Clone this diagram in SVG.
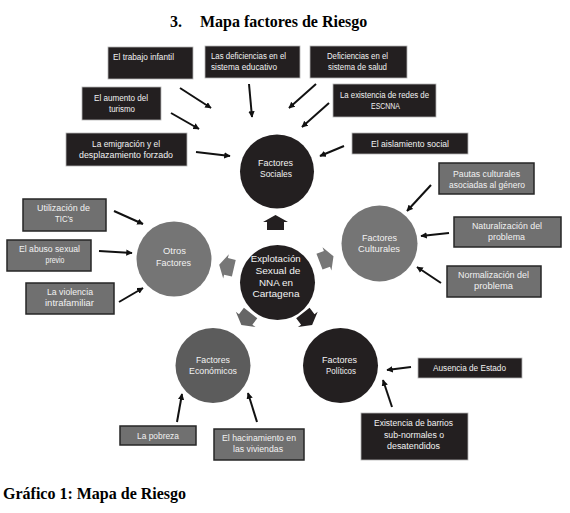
<svg xmlns="http://www.w3.org/2000/svg" xmlns:xlink="http://www.w3.org/1999/xlink" width="570" height="513" viewBox="0 0 570 513">
<defs>
<style>
.title{font-family:"Liberation Serif","Times New Roman",serif;font-weight:bold;font-size:16px;fill:#000}
.t{font-family:"Liberation Sans",Arial,sans-serif;font-size:8.5px;fill:#f2f2f2;text-anchor:middle}
.c{font-family:"Liberation Sans",Arial,sans-serif;font-size:9.5px;fill:#f2f2f2;text-anchor:middle}
.bk{fill:#231f20;stroke:#b5b5b5;stroke-width:0.8}
.gy{fill:#707070;stroke:#262626;stroke-width:1.5}
.cb{fill:#231f20}
.cg{fill:#757575}
.ce{fill:#5c5c5c}
.ln{stroke:#111;stroke-width:2;fill:none;marker-end:url(#ah)}
</style>
<marker id="ah" viewBox="0 0 10 10" refX="9" refY="5" markerWidth="3.2" markerHeight="3.2" orient="auto" markerUnits="strokeWidth">
<path d="M0,0 L10,5 L0,10 Z" fill="#111"/>
</marker>
<path id="blk" d="M0,-7.5 L12.5,-0.5 L8.5,-0.5 L8.5,7.5 L-8.5,7.5 L-8.5,-0.5 L-12.5,-0.5 Z"/>
</defs>
<rect width="570" height="513" fill="#fff"/>
<text class="title" x="170" y="27">3.</text>
<text class="title" x="200" y="27">Mapa factores de Riesgo</text>
<text class="title" x="3" y="499">Gráfico 1: Mapa de Riesgo</text>

<g id="connectors">
<line class="ln" x1="180" y1="88" x2="211" y2="108"/>
<line class="ln" x1="249" y1="84" x2="252" y2="117"/>
<line class="ln" x1="316" y1="84" x2="289" y2="108"/>
<line class="ln" x1="171" y1="113" x2="199" y2="129"/>
<line class="ln" x1="329" y1="103" x2="302" y2="127"/>
<line class="ln" x1="196" y1="152" x2="230" y2="156"/>
<line class="ln" x1="344" y1="146" x2="320" y2="156"/>
<line class="ln" x1="431" y1="185" x2="407" y2="211"/>
<line class="ln" x1="449" y1="233" x2="421" y2="236"/>
<line class="ln" x1="441" y1="283" x2="417" y2="267"/>
<line class="ln" x1="114" y1="211" x2="143" y2="224"/>
<line class="ln" x1="99" y1="251" x2="132" y2="253"/>
<line class="ln" x1="119" y1="302" x2="143" y2="288"/>
<line class="ln" x1="177" y1="422" x2="182" y2="394"/>
<line class="ln" x1="257" y1="422" x2="248" y2="393"/>
<line class="ln" x1="411" y1="367" x2="387" y2="370"/>
<line class="ln" x1="392" y1="407" x2="383" y2="380"/>
<use xlink:href="#blk" fill="#231f20" transform="translate(275.5,222.5)"/>
<use xlink:href="#blk" fill="#777" transform="translate(326.5,259) rotate(69)"/>
<use xlink:href="#blk" fill="#777" transform="translate(226.5,266.5) rotate(-77)"/>
<use xlink:href="#blk" fill="#666" transform="translate(246,319) rotate(-142)"/>
<use xlink:href="#blk" fill="#231f20" transform="translate(307.5,319) rotate(142)"/>
</g>

<g id="n-trabajo"><rect class="bk" x="108" y="47" width="85" height="32"/><text class="t" x="143.5" y="60" textLength="61" lengthAdjust="spacingAndGlyphs">El trabajo infantil</text></g>
<g id="n-educativo"><rect class="bk" x="205" y="46" width="95" height="32"/><text class="t" x="248.5" y="59" textLength="75" lengthAdjust="spacingAndGlyphs">Las deficiencias en el</text><text class="t" x="244" y="70" textLength="66" lengthAdjust="spacingAndGlyphs">sistema educativo</text></g>
<g id="n-salud"><rect class="bk" x="310" y="46" width="97" height="32"/><text class="t" x="357.5" y="59" textLength="61" lengthAdjust="spacingAndGlyphs">Deficiencias en el</text><text class="t" x="357.5" y="70" textLength="59" lengthAdjust="spacingAndGlyphs">sistema de salud</text></g>
<g id="n-turismo"><rect class="bk" x="82" y="87" width="79" height="33"/><text class="t" x="121" y="101" textLength="54" lengthAdjust="spacingAndGlyphs">El aumento del</text><text class="t" x="122" y="112" textLength="26" lengthAdjust="spacingAndGlyphs">turismo</text></g>
<g id="n-redes"><rect class="bk" x="333" y="84" width="103" height="33"/><text class="t" x="384.5" y="98" textLength="89" lengthAdjust="spacingAndGlyphs">La existencia de redes de</text><text class="t" x="385.5" y="109" textLength="29" lengthAdjust="spacingAndGlyphs">ESCNNA</text></g>
<g id="n-emigracion"><rect class="bk" x="66" y="133" width="121" height="33"/><text class="t" x="126" y="147" textLength="68" lengthAdjust="spacingAndGlyphs">La emigración y el</text><text class="t" x="126" y="158" textLength="94" lengthAdjust="spacingAndGlyphs">desplazamiento forzado</text></g>
<g id="n-aislamiento"><rect class="bk" x="352" y="133" width="116" height="21"/><text class="t" x="410" y="147" textLength="78" lengthAdjust="spacingAndGlyphs">El aislamiento social</text></g>
<g id="n-sociales"><circle class="cb" cx="277" cy="171.5" r="37"/><text class="c" x="275.5" y="166" textLength="35" lengthAdjust="spacingAndGlyphs">Factores</text><text class="c" x="276" y="177" textLength="32" lengthAdjust="spacingAndGlyphs">Sociales</text></g>

<g id="n-pautas"><rect class="gy" x="439" y="163" width="95" height="31"/><text class="t" x="486.5" y="177" textLength="67" lengthAdjust="spacingAndGlyphs">Pautas culturales</text><text class="t" x="487" y="188" textLength="76" lengthAdjust="spacingAndGlyphs">asociadas al género</text></g>
<g id="n-naturalizacion"><rect class="gy" x="454" y="217" width="107" height="30"/><text class="t" x="507" y="229" textLength="70" lengthAdjust="spacingAndGlyphs">Naturalización del</text><text class="t" x="506.5" y="240" textLength="37" lengthAdjust="spacingAndGlyphs">problema</text></g>
<g id="n-normalizacion"><rect class="gy" x="447" y="266" width="94" height="31"/><text class="t" x="493.5" y="278" textLength="71" lengthAdjust="spacingAndGlyphs">Normalización del</text><text class="t" x="493.5" y="289" textLength="39" lengthAdjust="spacingAndGlyphs">problema</text></g>
<g id="n-culturales"><circle class="cg" cx="379.5" cy="243.5" r="38"/><text class="c" x="379.5" y="241" textLength="35" lengthAdjust="spacingAndGlyphs">Factores</text><text class="c" x="379" y="252" textLength="42" lengthAdjust="spacingAndGlyphs">Culturales</text></g>

<g id="n-tic"><rect class="gy" x="23" y="199" width="83" height="32"/><text class="t" x="63.5" y="211" textLength="53" lengthAdjust="spacingAndGlyphs">Utilización de</text><text class="t" x="64" y="222" textLength="18" lengthAdjust="spacingAndGlyphs">TIC’s</text></g>
<g id="n-abuso"><rect class="gy" x="7" y="240" width="84" height="31"/><text class="t" x="49.5" y="252" textLength="61" lengthAdjust="spacingAndGlyphs">El abuso sexual</text><text class="t" x="55" y="263" textLength="19" lengthAdjust="spacingAndGlyphs">previo</text></g>
<g id="n-violencia"><rect class="gy" x="26" y="283" width="88" height="31"/><text class="t" x="70" y="295" textLength="46" lengthAdjust="spacingAndGlyphs">La violencia</text><text class="t" x="69.5" y="306" textLength="49" lengthAdjust="spacingAndGlyphs">intrafamiliar</text></g>
<g id="n-otros"><circle class="cg" cx="174" cy="259" r="37.5"/><text class="c" x="174.5" y="254" textLength="23" lengthAdjust="spacingAndGlyphs">Otros</text><text class="c" x="173.5" y="266" textLength="35" lengthAdjust="spacingAndGlyphs">Factores</text></g>

<g id="n-centro"><circle class="cb" cx="277.5" cy="282.5" r="37.5"/><text class="c" font-size="10.5" x="275.7" y="262" textLength="50" lengthAdjust="spacingAndGlyphs">Explotación</text><text class="c" font-size="10.5" x="278" y="274" textLength="45" lengthAdjust="spacingAndGlyphs">Sexual de</text><text class="c" font-size="10.5" x="276" y="285.5" textLength="34" lengthAdjust="spacingAndGlyphs">NNA en</text><text class="c" font-size="10.5" x="276" y="297" textLength="47" lengthAdjust="spacingAndGlyphs">Cartagena</text></g>

<g id="n-economicos"><circle class="ce" cx="213" cy="365.5" r="37.5"/><text class="c" x="213" y="363" textLength="34" lengthAdjust="spacingAndGlyphs">Factores</text><text class="c" x="213" y="374" textLength="48" lengthAdjust="spacingAndGlyphs">Económicos</text></g>
<g id="n-politicos"><circle class="cb" cx="340.5" cy="365.5" r="37.5"/><text class="c" x="339.5" y="363" textLength="35" lengthAdjust="spacingAndGlyphs">Factores</text><text class="c" x="341" y="374" textLength="30" lengthAdjust="spacingAndGlyphs">Políticos</text></g>

<g id="n-pobreza"><rect class="gy" x="120" y="426" width="76" height="19"/><text class="t" x="158" y="439" textLength="42" lengthAdjust="spacingAndGlyphs">La pobreza</text></g>
<g id="n-hacinamiento"><rect class="gy" x="214" y="429" width="90" height="31"/><text class="t" x="259" y="441" textLength="74" lengthAdjust="spacingAndGlyphs">El hacinamiento en</text><text class="t" x="258" y="452" textLength="50" lengthAdjust="spacingAndGlyphs">las viviendas</text></g>
<g id="n-estado"><rect class="bk" x="418" y="358" width="104" height="20"/><text class="t" x="469.5" y="371" textLength="73" lengthAdjust="spacingAndGlyphs">Ausencia de Estado</text></g>
<g id="n-barrios"><rect class="bk" x="361" y="413" width="107" height="47"/><text class="t" x="413.5" y="426" textLength="79" lengthAdjust="spacingAndGlyphs">Existencia de barrios</text><text class="t" x="414" y="437.5" textLength="60" lengthAdjust="spacingAndGlyphs">sub-normales o</text><text class="t" x="413.5" y="449" textLength="53" lengthAdjust="spacingAndGlyphs">desatendidos</text></g>
</svg>
